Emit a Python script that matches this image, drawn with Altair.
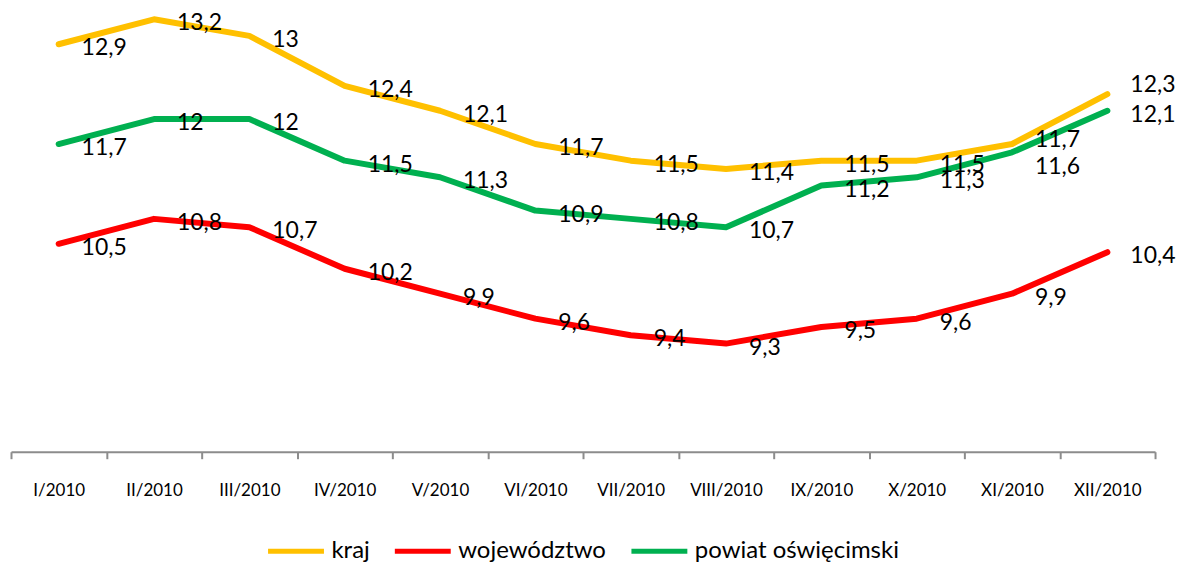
import altair as alt
import pandas as pd

months = ["I/2010", "II/2010", "III/2010", "IV/2010", "V/2010", "VI/2010",
          "VII/2010", "VIII/2010", "IX/2010", "X/2010", "XI/2010", "XII/2010"]
series_names = ["kraj", "województwo", "powiat oświęcimski"]
kraj = [12.9, 13.2, 13.0, 12.4, 12.1, 11.7, 11.5, 11.4, 11.5, 11.5, 11.7, 12.3]
wojewodztwo = [10.5, 10.8, 10.7, 10.2, 9.9, 9.6, 9.4, 9.3, 9.5, 9.6, 9.9, 10.4]
powiat = [11.7, 12.0, 12.0, 11.5, 11.3, 10.9, 10.8, 10.7, 11.2, 11.3, 11.6, 12.1]
colors = ["#FFC000", "#FF0000", "#00B050"]

rows = []
for name, vals in zip(series_names, [kraj, wojewodztwo, powiat]):
    for i, (m, v) in enumerate(zip(months, vals)):
        rows.append({"month": m, "series": name, "value": v,
                     "label": f"{v:g}".replace(".", ","), "key": f"{name}|{m}",
                     "order": series_names.index(name)})
df = pd.DataFrame(rows)

x_enc = alt.X("month:N", sort=months,
              scale=alt.Scale(type="band", paddingInner=0, paddingOuter=0),
              bandPosition=0.5,
              axis=alt.Axis(title=None, tickBand="extent", labelAngle=0,
                            labelFont="Lato", labelFontSize=17, labelColor="#000000",
                            labelBaseline="middle", labelPadding=32,
                            tickSize=7, tickColor="#8C8C8C", tickWidth=2,
                            domainColor="#8C8C8C", domainWidth=2, grid=False))
y_enc = alt.Y("value:Q", scale=alt.Scale(domain=[8, 13.33], nice=False, zero=False),
              axis=None)

base = alt.Chart(df)

lines = base.mark_line(strokeWidth=6, strokeCap="round", strokeJoin="round").encode(
    x=x_enc, y=y_enc,
    color=alt.Color("series:N", sort=series_names,
                    scale=alt.Scale(domain=series_names, range=colors),
                    legend=alt.Legend(title=None, orient="none", direction="horizontal",
                                      legendX=255, legendY=513,
                                      symbolType="stroke", symbolSize=3136,
                                      symbolStrokeWidth=5, labelFont="Lato",
                                      labelFontSize=24, labelColor="#000000",
                                      labelLimit=0,
                                      labelOffset=5, columnPadding=14)),
    order=alt.Order("order:Q"),
)

special = {"kraj|XII/2010": -13, "kraj|XI/2010": -8, "powiat oświęcimski|XI/2010": 11}

def text_layer(dy, flt):
    return base.mark_text(align="left", baseline="middle", dx=23, dy=dy,
                          font="Lato", fontSize=23, color="#000000").encode(
        x=x_enc, y=y_enc, text="label:N"
    ).transform_filter(flt)

keys = list(special.keys())
main_text = text_layer(4, ~alt.FieldOneOfPredicate(field="key", oneOf=keys))
extra = [text_layer(4 + d, alt.FieldEqualPredicate(field="key", equal=k))
         for k, d in special.items()]

chart = alt.layer(lines, main_text, *extra).properties(
    width=1146, height=444,
    padding={"left": 2, "top": 0, "right": 0, "bottom": 0},
).configure_view(stroke=None)

chart.save("out.html", embed_options={"renderer": "svg", "actions": False})
